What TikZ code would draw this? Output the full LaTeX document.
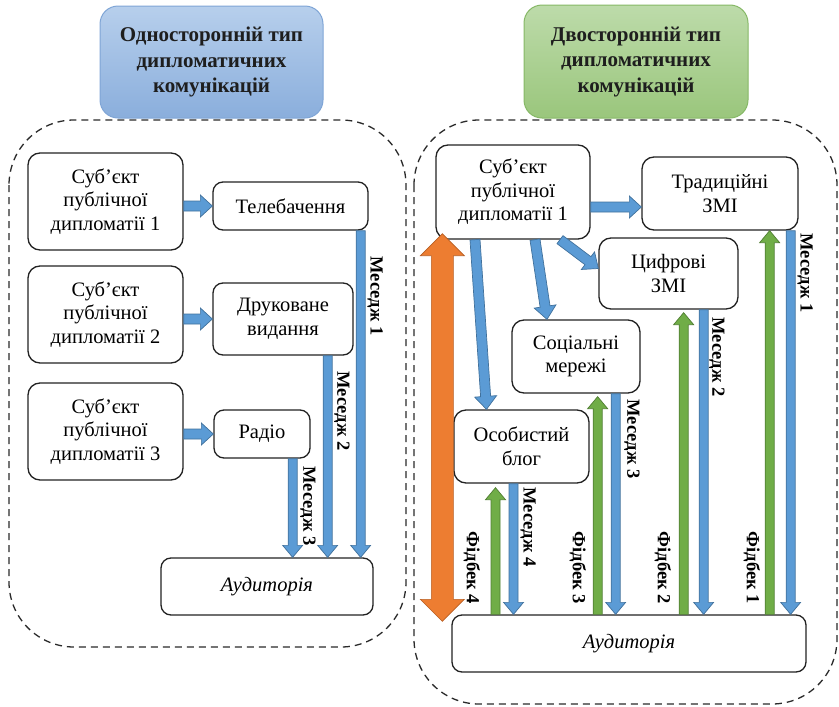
\documentclass[tikz,border=0pt]{standalone}
\usepackage{fontspec}
\setmainfont{Liberation Serif}
\usetikzlibrary{calc}

\definecolor{boxline}{HTML}{222222}
\definecolor{dashline}{HTML}{2A2A2A}
\definecolor{blueF}{HTML}{5B9BD5}
\definecolor{blueD}{HTML}{41719C}
\definecolor{greenF}{HTML}{70AD47}
\definecolor{greenD}{HTML}{507E32}
\definecolor{orangeF}{HTML}{ED7D31}
\definecolor{orangeD}{HTML}{B85F24}
\definecolor{hdrBlueT}{HTML}{B7CFEC}
\definecolor{hdrBlueB}{HTML}{8AAEDC}
\definecolor{hdrBlueL}{HTML}{7FA5D6}
\definecolor{hdrGreenT}{HTML}{BDDBAA}
\definecolor{hdrGreenB}{HTML}{9AC67C}
\definecolor{hdrGreenL}{HTML}{86B866}
\definecolor{hdrText}{HTML}{1E1E1E}

\newcommand\bxfont{\fontsize{20.5}{23.5}\selectfont}
\newcommand\hdfont{\fontsize{21}{25.5}\selectfont\bfseries}
\newcommand\lbfont{\fontsize{18.5}{20}\selectfont\bfseries}

% block arrow: style, from, to, shaft half width, head half width, head length
\newcommand\blockarrow[6]{%
  \coordinate (ba-h) at ($(#3)!#6!(#2)$);
  \path[#1] ($(#2)!#4!90:(#3)$) -- ($(ba-h)!#4!-90:(#2)$) -- ($(ba-h)!#5!-90:(#2)$)
    -- (#3) -- ($(ba-h)!#5!90:(#2)$) -- ($(ba-h)!#4!90:(#2)$)
    -- ($(#2)!#4!-90:(#3)$) -- cycle;
}
% two-headed block arrow: style, from, to, shaft half width, head half width, head length
\newcommand\dblblockarrow[6]{%
  \coordinate (da-h1) at ($(#2)!#6!(#3)$);
  \coordinate (da-h2) at ($(#3)!#6!(#2)$);
  \path[#1] (#2) -- ($(da-h1)!#5!90:(#3)$) -- ($(da-h1)!#4!90:(#3)$)
    -- ($(da-h2)!#4!-90:(#2)$) -- ($(da-h2)!#5!-90:(#2)$) -- (#3)
    -- ($(da-h2)!#5!90:(#2)$) -- ($(da-h2)!#4!90:(#2)$)
    -- ($(da-h1)!#4!-90:(#3)$) -- ($(da-h1)!#5!-90:(#3)$) -- cycle;
}

\tikzset{
  box/.style={draw=boxline, line width=1.3pt, rounded corners=12pt, fill=white,
    align=center, inner sep=0pt, font=\bxfont},
  region/.style={draw=dashline, line width=1.3pt, dash pattern=on 7pt off 5pt,
    rounded corners=65pt},
  header/.style={line width=1pt, rounded corners=18pt, align=center, inner sep=0pt,
    font=\hdfont, text=hdrText},
  lbl/.style={font=\lbfont, rotate=-90, inner sep=0pt},
  bluearr/.style={fill=blueF, draw=blueD, line width=0.7pt},
  greenarr/.style={fill=greenF, draw=greenD, line width=0.7pt},
  orangearr/.style={fill=orangeF, draw=orangeD, line width=0.7pt},
}

\begin{document}
\begin{tikzpicture}[x=1pt, y=-1pt]
\path[use as bounding box] (0,0) rectangle (839,707);

% dashed groupings
\draw[region] (9,120) rectangle (406,647);
\draw[region] (414,120) rectangle (837,704);

% headers
\node[header, draw=hdrBlueL, top color=hdrBlueT, bottom color=hdrBlueB,
  minimum width=223pt, minimum height=112pt] (hL) at (211.5,62)
  {Односторонній тип\\дипломатичних\\комунікацій};
\node[header, draw=hdrGreenL, top color=hdrGreenT, bottom color=hdrGreenB,
  minimum width=224pt, minimum height=113pt] (hR) at (636,61.5)
  {Двосторонній тип\\дипломатичних\\комунікацій};

% ---- one-way scheme ----
\node[box, minimum width=155pt, minimum height=97pt] (s1) at (105.5,201.5) {Суб’єкт\\публічної\\дипломатії 1};
\node[box, minimum width=155pt, minimum height=97pt] (s2) at (105.5,314.5) {Суб’єкт\\публічної\\дипломатії 2};
\node[box, minimum width=155pt, minimum height=97pt] (s3) at (105.5,431.5) {Суб’єкт\\публічної\\дипломатії 3};
\node[box, rounded corners=10pt, minimum width=155pt, minimum height=48pt] (tv) at (290.5,206) {Телебачення};
\node[box, rounded corners=10pt, minimum width=140pt, minimum height=72pt] (dr) at (283,319) {Друковане\\видання};
\node[box, rounded corners=10pt, minimum width=96pt, minimum height=48pt] (rd) at (262,434) {Радіо};
\node[box, rounded corners=10pt, minimum width=212pt, minimum height=57pt, font=\bxfont\itshape] (audL) at (267,586.5) {Аудиторія};

\coordinate (h1) at (s1.east |- tv.west);
\coordinate (h2) at (s2.east |- dr.west);
\coordinate (h3) at (s3.east |- rd.west);
\blockarrow{bluearr}{h1}{tv.west}{5pt}{11pt}{12pt}
\blockarrow{bluearr}{h2}{dr.west}{5pt}{11pt}{12pt}
\blockarrow{bluearr}{h3}{rd.west}{5pt}{11pt}{12pt}

\coordinate (lm1t) at ([xshift=-8pt]tv.south east);
\coordinate (lm1b) at (lm1t |- audL.north);
\coordinate (lm2t) at ([xshift=-26pt]dr.south east);
\coordinate (lm2b) at (lm2t |- audL.north);
\coordinate (lm3t) at ([xshift=-18pt]rd.south east);
\coordinate (lm3b) at (lm3t |- audL.north);
\blockarrow{bluearr}{lm1t}{lm1b}{4.5pt}{10pt}{12pt}
\blockarrow{bluearr}{lm2t}{lm2b}{4.5pt}{10pt}{12pt}
\blockarrow{bluearr}{lm3t}{lm3b}{4.5pt}{10pt}{12pt}

\node[lbl] (llm1) at (375,296) {Меседж 1};
\node[lbl] (llm2) at (342,411) {Меседж 2};
\node[lbl] (llm3) at (308,506) {Меседж 3};

% ---- two-way scheme ----
\node[box, minimum width=154pt, minimum height=94pt] (sR) at (513,192) {Суб’єкт\\публічної\\дипломатії 1};
\node[box, minimum width=156pt, minimum height=73pt] (trad) at (720,193.5) {Традиційні\\ЗМІ};
\node[box, minimum width=139pt, minimum height=71pt] (cyf) at (668.5,273.5) {Цифрові\\ЗМІ};
\node[box, minimum width=128pt, minimum height=73pt] (soc) at (576,356.5) {Соціальні\\мережі};
\node[box, minimum width=135pt, minimum height=73pt] (blog) at (521.5,446.5) {Особистий\\блог};
\node[box, rounded corners=10pt, minimum width=354pt, minimum height=57pt, font=\bxfont\itshape] (audR) at (629,643.5) {Аудиторія};

% subject to channels
\coordinate (d1s) at ([yshift=-15pt]sR.east);
\coordinate (d1e) at (trad.west |- d1s);
\coordinate (d2s) at ([xshift=47pt]sR.south);
\coordinate (d2e) at ([yshift=5pt]cyf.west);
\coordinate (d3s) at ([xshift=22pt]sR.south);
\coordinate (d3e) at ([xshift=-29pt]soc.north);
\coordinate (d4s) at ([xshift=-38pt]sR.south);
\coordinate (d4e) at ([xshift=-35pt]blog.north);
\blockarrow{bluearr}{d1s}{d1e}{5pt}{11pt}{12pt}
\blockarrow{bluearr}{d2s}{d2e}{5pt}{11pt}{13pt}
\blockarrow{bluearr}{d3s}{d3e}{5pt}{11pt}{13pt}
\blockarrow{bluearr}{d4s}{d4e}{5pt}{11pt}{13pt}

% direct two-way link
\coordinate (o1) at ([xshift=7pt,yshift=6pt]sR.south west);
\coordinate (o2a) at (o1 |- audR.north);
\coordinate (o2) at ([yshift=-7pt]o2a);
\dblblockarrow{orangearr}{o1}{o2}{11pt}{22pt}{22pt}

% messages and feedback
\coordinate (rm1t) at ([xshift=-8pt]trad.south east);
\coordinate (rm1b) at (rm1t |- audR.north);
\coordinate (rf1t) at ([xshift=-29pt]trad.south east);
\coordinate (rf1b) at (rf1t |- audR.north);
\coordinate (rm2t) at ([xshift=-35pt]cyf.south east);
\coordinate (rm2b) at (rm2t |- audR.north);
\coordinate (rf2t) at ([xshift=-55pt,yshift=-3pt]cyf.south east);
\coordinate (rf2b) at (rf2t |- audR.north);
\coordinate (rm3t) at ([xshift=-25pt]soc.south east);
\coordinate (rm3b) at (rm3t |- audR.north);
\coordinate (rf3t) at ([xshift=-43pt,yshift=-3pt]soc.south east);
\coordinate (rf3b) at (rf3t |- audR.north);
\coordinate (rm4t) at ([xshift=-8pt]blog.south);
\coordinate (rm4b) at (rm4t |- audR.north);
\coordinate (rf4t) at ([xshift=-26pt,yshift=-4pt]blog.south);
\coordinate (rf4b) at (rf4t |- audR.north);

\blockarrow{bluearr}{rm1t}{rm1b}{4.5pt}{10pt}{12pt}
\blockarrow{bluearr}{rm2t}{rm2b}{4.5pt}{10pt}{12pt}
\blockarrow{bluearr}{rm3t}{rm3b}{4.5pt}{10pt}{12pt}
\blockarrow{bluearr}{rm4t}{rm4b}{4.5pt}{10pt}{12pt}
\blockarrow{greenarr}{rf1b}{rf1t}{4.5pt}{10pt}{12pt}
\blockarrow{greenarr}{rf2b}{rf2t}{4.5pt}{10pt}{12pt}
\blockarrow{greenarr}{rf3b}{rf3t}{4.5pt}{10pt}{12pt}
\blockarrow{greenarr}{rf4b}{rf4t}{4.5pt}{10pt}{12pt}

\node[lbl] (lrm1) at (805,273) {Меседж 1};
\node[lbl] (lrm2) at (717,357) {Меседж 2};
\node[lbl] (lrm3) at (632,439) {Меседж 3};
\node[lbl] (lrm4) at (528,527) {Меседж 4};
\node[lbl] (lrf1) at (752,568) {Фідбек 1};
\node[lbl] (lrf2) at (663,568) {Фідбек 2};
\node[lbl] (lrf3) at (578,568) {Фідбек 3};
\node[lbl] (lrf4) at (472,568) {Фідбек 4};
\end{tikzpicture}
\end{document}
